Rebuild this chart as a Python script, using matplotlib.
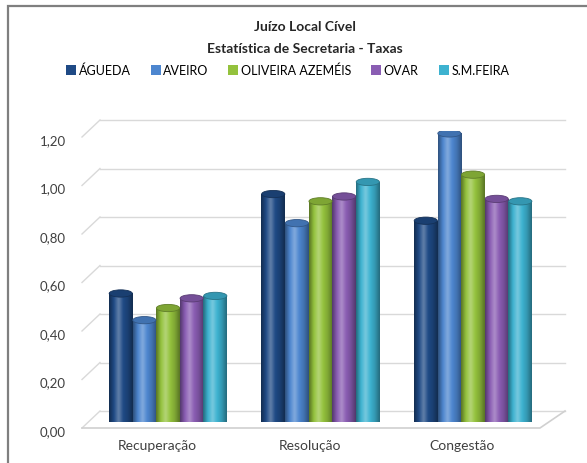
import numpy as np
import matplotlib
matplotlib.use("Agg")
import matplotlib.pyplot as plt
from matplotlib.patches import Rectangle, Ellipse, Patch
from matplotlib.colors import LinearSegmentedColormap, to_rgb
from matplotlib.transforms import ScaledTranslation

plt.rcParams["font.family"] = ["Lato", "DejaVu Sans"]

# dados ------------------------------------------------------------------

categorias = ["Recuperação", "Resolução", "Congestão"]
comarcas = ["ÁGUEDA", "AVEIRO", "OLIVEIRA AZEMÉIS", "OVAR", "S.M.FEIRA"]
agueda = [0.53, 0.94, 0.83]
aveiro = [0.42, 0.82, 1.19]
oliveira = [0.47, 0.91, 1.02]
ovar = [0.51, 0.93, 0.92]
smfeira = [0.52, 0.99, 0.91]
yticks = [0.0, 0.2, 0.4, 0.6, 0.8, 1.0, 1.2]

series = [agueda, aveiro, oliveira, ovar, smfeira]
cores = ["#1F4A85", "#4D86CF", "#94C23D", "#8A5DB3", "#3DB2D0"]

# figura -----------------------------------------------------------------

fig = plt.figure(figsize=(5.87, 4.64), dpi=100)
fig.patches.append(Rectangle((8 / 587, -0.05), 1.0, 1.05 - 7 / 464,
                             transform=fig.transFigure, facecolor="none",
                             edgecolor="#7f7f7f", lw=1.6, zorder=-1))

ax = fig.add_axes([100 / 587, 41 / 464, 465 / 587, 291 / 464])
ax.set_facecolor("none")
for s in ax.spines.values():
    s.set_visible(False)
ax.set_xlim(-0.446, 2.603)
ax.set_ylim(0, 1.2)


def px(dx, dy):
    return ScaledTranslation(dx / 100, dy / 100, fig.dpi_scale_trans)


ty = ax.get_yaxis_transform()
inv = fig.transFigure.inverted()

# grelha em perspetiva
for v in yticks:
    ax.plot([0, 1], [v, v], color="#d9d9d9", lw=1.0, transform=ty + px(0, 11),
            clip_on=False, zorder=1)
    p1 = inv.transform((ty + px(0, 11)).transform((0, v)))
    p2 = inv.transform((ty + px(-18, -6)).transform((0, v)))
    fig.add_artist(plt.Line2D([p1[0], p2[0]], [p1[1], p2[1]],
                              transform=fig.transFigure, color="#d9d9d9", lw=1.0))
    ax.text(0, v, f"{v:.2f}".replace(".", ","), transform=ty + px(-34, -9),
            ha="right", va="center", fontsize=9.5, color="#404040")

# chão
q1 = inv.transform((ty + px(-18, -6)).transform((0, 0)))
q2 = inv.transform((ty + px(-25, -6)).transform((1, 0)))
q3 = inv.transform((ty + px(0, 11)).transform((1, 0)))
fig.add_artist(plt.Line2D([q1[0], q2[0], q3[0]], [q1[1], q2[1], q3[1]],
                          transform=fig.transFigure, color="#d0d0d0", lw=1.2))

# barras cilíndricas ---------------------------------------------------

x = np.arange(len(categorias))
bw = 0.155


def cmap_cilindro(c):
    r = np.array(to_rgb(c))
    escuro = r * 0.6
    claro = r + (1 - r) * 0.3
    return LinearSegmentedColormap.from_list(
        "cil", [escuro, r, claro, r, r * 0.85, escuro])


grad = np.linspace(0, 1, 64).reshape(1, -1)
for i, (vals, cor) in enumerate(zip(series, cores)):
    offs = (i - 2) * bw
    bars = ax.bar(x + offs, vals, width=bw, color=cor, zorder=3, lw=0)
    cm = cmap_cilindro(cor)
    for b in bars:
        x0, w, h = b.get_x(), b.get_width(), b.get_height()
        im = ax.imshow(grad, cmap=cm, extent=(x0, x0 + w, 0, h),
                       aspect="auto", zorder=3.5, interpolation="bicubic")
        im.set_clip_path(b)
        r = np.array(to_rgb(cor))
        ax.add_patch(Ellipse((x0 + w / 2, h), w * 0.98, 0.03,
                             facecolor=r * 0.85, edgecolor=r * 0.65, lw=0.6,
                             zorder=4))

ax.set_xlim(-0.446, 2.603)
ax.set_ylim(0, 1.2)
ax.set_yticks([])
ax.set_xticks(x - 0.07)
ax.set_xticklabels(categorias, fontsize=10, color="#404040")
ax.tick_params(axis="x", length=0, pad=12)

# títulos e legenda
fig.text(0.52, 1 - 27 / 464, "Juízo Local Cível", ha="center", va="center",
         fontsize=10, fontweight="bold", color="#262626")
fig.text(0.52, 1 - 49 / 464, "Estatística de Secretaria - Taxas", ha="center",
         va="center", fontsize=10, fontweight="bold", color="#262626")

handles = [Patch(facecolor=c, edgecolor="none", label=n)
           for c, n in zip(cores, comarcas)]
fig.legend(handles=handles, loc="center", bbox_to_anchor=(0.49, 1 - 71 / 464),
           ncol=5, frameon=False, fontsize=9, handlelength=0.8,
           handleheight=0.8, handletextpad=0.2, columnspacing=1.6)

fig.savefig("out.png", dpi=100)
